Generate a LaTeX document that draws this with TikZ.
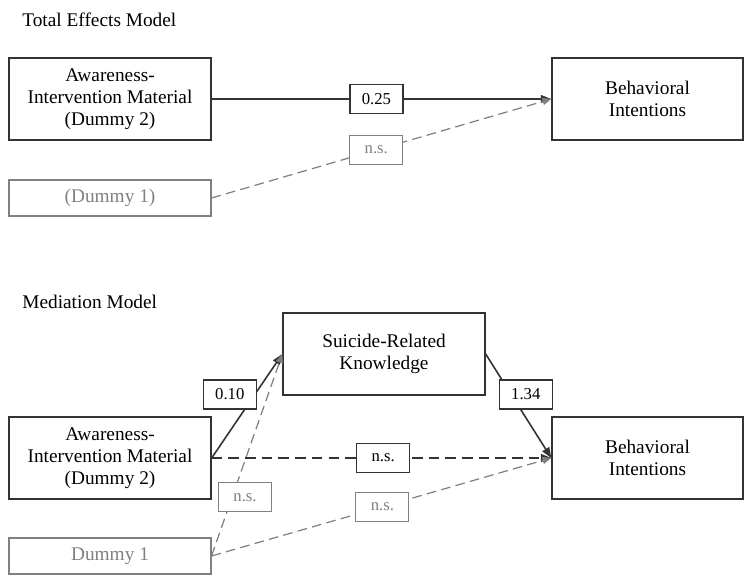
\documentclass[tikz,border=0pt]{standalone}
\usepackage{fontspec}
\setmainfont{Liberation Serif}
\usetikzlibrary{
    arrows.meta,
    positioning,
    calc
}
\definecolor{boxline}{gray}{0.2}
\definecolor{nsgray}{gray}{0.5}
\tikzset{
    % --- Variable box (construct) ---
    var/.style = {
        rectangle, draw=boxline, line width=0.8pt,
        minimum width=4.04cm, minimum height=1.64cm,
        font=\fontsize{11}{12.5}\selectfont, align=center,
        inner sep=2pt
    },
    % --- Grey dummy box (non-significant predictor) ---
    dummy/.style = {
        var, draw=nsgray, text=nsgray, line width=0.6pt,
        minimum height=0.72cm
    },
    % --- Coefficient label on path ---
    coef/.style = {
        rectangle, draw=boxline, fill=white, line width=0.7pt, solid,
        minimum width=1.06cm, minimum height=0.58cm,
        font=\fontsize{9.5}{11}\selectfont, inner sep=1pt
    },
    % --- Grey n.s. label ---
    ns label/.style = {
        coef, draw=nsgray, text=nsgray, line width=0.6pt
    },
    % --- Model heading ---
    heading/.style = {
        font=\fontsize{11}{13}\selectfont, anchor=base west, inner sep=0pt
    },
    % --- Significant path ---
    sig path/.style = {
        -{Triangle[length=6pt,width=4.5pt]}, draw=boxline, line width=0.9pt
    },
    % --- Non-significant path (black, dashed) ---
    ns path/.style = {
        -{Triangle[length=6pt,width=4.5pt]}, draw=boxline, line width=1.1pt,
        dash pattern=on 6pt off 3.5pt
    },
    % --- Path from grey dummy ---
    dummy path/.style = {
        -{Triangle[length=5pt,width=4pt]}, draw=nsgray, line width=0.7pt,
        dash pattern=on 5.5pt off 3pt
    }
}

\begin{document}
\begin{tikzpicture}[
    x=0.02cm, y=-0.02cm,
    >=Stealth, font=\fontsize{11}{12.5}\selectfont
]
\useasboundingbox (0,0) rectangle (744,575);

% ---------------------------------------------------------
% Total effects model
% ---------------------------------------------------------
\node[heading] (TitleTot) at (22, 26) {Total Effects Model};

\node[var] (AwTot) at (110, 99) {Awareness-\\Intervention Material\\(Dummy 2)};
\node[dummy] (DumTot) at (110, 198) {(Dummy 1)};
\node[var, minimum width=3.82cm] (BehTot) at (647.5, 99) {Behavioral\\Intentions};

\draw[sig path] (AwTot.east) -- (BehTot.west)
    node[coef, pos=0.485] (cTot) {0.25};
\draw[dummy path] (DumTot.east) -- (BehTot.west)
    node[ns label, pos=0.485] (nsTot) {n.s.};

% ---------------------------------------------------------
% Mediation model
% ---------------------------------------------------------
\node[heading] (TitleMed) at (22, 308) {Mediation Model};

\node[var] (Know) at (384, 354) {Suicide-Related\\Knowledge};
\node[var] (AwMed) at (110, 458) {Awareness-\\Intervention Material\\(Dummy 2)};
\node[dummy] (DumMed) at (110, 556) {Dummy 1};
\node[var, minimum width=3.82cm] (BehMed) at (647.5, 458) {Behavioral\\Intentions};

% a paths
\draw[sig path] (AwMed.east) -- (Know.west)
    node[coef, pos=0.61, xshift=-0.5cm] (cA) {0.10};
\draw[dummy path] (DumMed.east) -- (Know.west)
    node[ns label, pos=0.29, xshift=0.26cm] (nsA) {n.s.};

% b path
\draw[sig path] (Know.east) -- (BehMed.west)
    node[coef, pos=0.39, xshift=0.29cm] (cB) {1.34};

% direct paths
\draw[ns path] (AwMed.east) -- (BehMed.west)
    node[coef, pos=0.505] (nsDir) {n.s.};
\draw[dummy path] (DumMed.east) -- (BehMed.west)
    node[ns label, pos=0.503] (nsDum) {n.s.};

\end{tikzpicture}
\end{document}
